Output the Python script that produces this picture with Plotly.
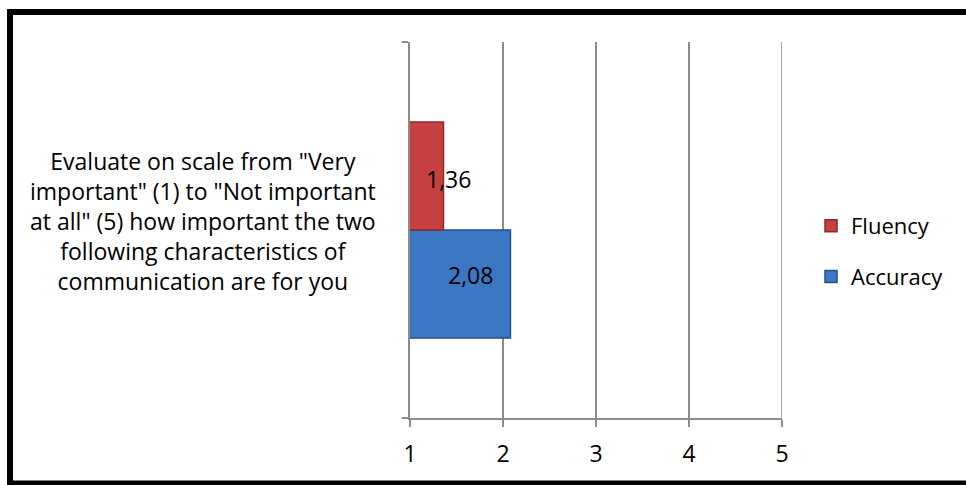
import plotly.graph_objects as go

# Survey question and mean ratings (1 = very important, 5 = not important at all)
question = ('Evaluate on scale from "Very<br>important" (1) to "Not important<br>'
            'at all" (5) how important the two<br>following characteristics of<br>'
            'communication are for you')
series_names = ["Accuracy", "Fluency"]
series_values = [2.08, 1.36]
series_colors = ["#3B77C2", "#C5403E"]
series_edges = ["#22528F", "#8E2A28"]
legend_ranks = [2, 1]
label_texts = ["2,08", "1,36"]
x_ticks = [1, 2, 3, 4, 5]

W, H = 966, 485
ML, MR, MT, MB = 410, 184, 42, 67
PW, PH = W - ML - MR, H - MT - MB

def px(x):
    return (x - ML) / PW

def py(y):
    return (H - MB - y) / PH

FONT = "Open Sans"
FS = 23
GRID = "#8C8C8C"

fig = go.Figure()
for name, val, col, edge, rank in zip(series_names, series_values, series_colors,
                                      series_edges, legend_ranks):
    fig.add_trace(go.Bar(
        y=[question], x=[val], name=name, orientation="h",
        marker=dict(color=col, line=dict(color=edge, width=1.5)),
        legendgroup=name, legendrank=rank,
    ))

# value labels sit near the middle of each bar
label_shift = [10, 22]
for i, (val, txt) in enumerate(zip(series_values, label_texts)):
    fig.add_annotation(
        x=(1 + val) / 2, y=0, xref="x", yref="y",
        yshift=(-45 if i == 0 else 51),
        xshift=label_shift[i],
        text=txt, showarrow=False,
        font=dict(family=FONT, size=FS, color="black"),
    )

# question text to the left of the axis
fig.add_annotation(
    x=px(203), y=py(221), xref="paper", yref="paper",
    text=question, showarrow=False, align="center",
    font=dict(family=FONT, size=FS, color="black"),
    xanchor="center", yanchor="middle",
)

# gridline on the last tick (the plot edge)
fig.add_shape(type="line", xref="x", yref="paper",
              x0=x_ticks[-1], x1=x_ticks[-1], y0=0, y1=1,
              line=dict(color=GRID, width=1.5), layer="below")

# chart frame
fig.add_shape(type="rect", xref="paper", yref="paper",
              x0=px(10), x1=px(975), y0=py(483.5), y1=py(12),
              line=dict(color="black", width=6), fillcolor="rgba(0,0,0,0)")

fig.update_layout(
    width=W, height=H,
    margin=dict(l=ML, r=MR, t=MT, b=MB),
    paper_bgcolor="white", plot_bgcolor="white",
    barmode="group", bargap=0.426, bargroupgap=0,
    font=dict(family=FONT, size=FS, color="black"),
    showlegend=True,
    legend=dict(x=px(811), y=py(205), xanchor="left", yanchor="top",
                traceorder="grouped", tracegroupgap=19,
                font=dict(family=FONT, size=22, color="black"),
                itemwidth=30, borderwidth=0, bgcolor="rgba(0,0,0,0)"),
    xaxis=dict(range=[1, 5], tickvals=x_ticks, ticktext=[str(t) for t in x_ticks],
               showgrid=True, gridcolor=GRID, gridwidth=1.5,
               showline=True, linecolor=GRID, linewidth=1.5,
               ticks="outside", ticklen=7, tickcolor=GRID, tickwidth=1.5,
               ticklabelstandoff=8, zeroline=False,
               tickfont=dict(family=FONT, size=FS, color="black")),
    yaxis=dict(type="category", range=[-0.5, 0.5], tickson="boundaries",
               showticklabels=False, showgrid=False,
               showline=True, linecolor=GRID, linewidth=1.5,
               ticks="outside", ticklen=6, tickcolor=GRID, tickwidth=1.5),
)

fig.write_html("out.html")
